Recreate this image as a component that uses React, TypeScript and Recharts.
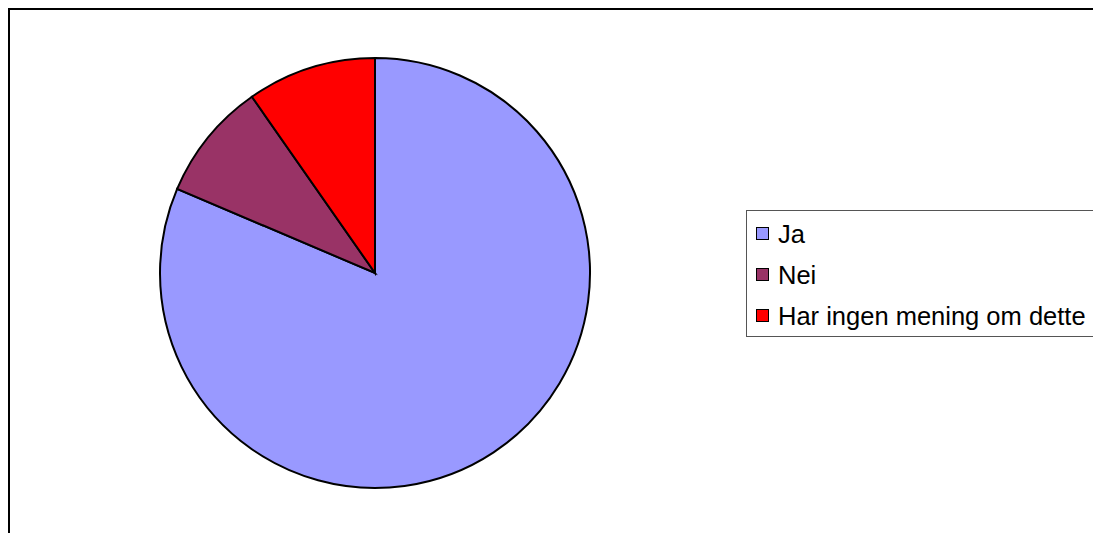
import { PieChart, Pie, Cell, Legend } from 'recharts';

const answers = ['Ja', 'Nei', 'Har ingen mening om dette'];
const shares = [81.4, 8.9, 9.7];
const sliceColors = ['#9999FF', '#993366', '#FF0000'];

const data = answers.map((name, i) => ({ name, value: shares[i] }));

const LegendBox = () => (
  <div
    style={{
      border: '1px solid #555',
      background: '#fff',
      width: 370,
      height: 127,
      boxSizing: 'border-box',
      paddingTop: 2,
      paddingLeft: 9,
      fontFamily: '"Liberation Sans", Arial, sans-serif',
      fontSize: 25.5,
      color: '#000',
    }}
  >
    {answers.map((name, i) => (
      <div key={name} style={{ display: 'flex', alignItems: 'center', height: 41 }}>
        <span
          style={{
            display: 'inline-block',
            width: 11,
            height: 11,
            background: sliceColors[i],
            border: '1.5px solid #000',
            marginRight: 9,
          }}
        />
        <span style={{ whiteSpace: 'nowrap', lineHeight: '26px' }}>{name}</span>
      </div>
    ))}
  </div>
);

const App = () => {
  return (
    <div
      style={{
        position: 'fixed',
        left: 8,
        top: 8,
        width: 1085,
        height: 525,
        borderTop: '2px solid #000',
        borderLeft: '2px solid #000',
        boxSizing: 'border-box',
        background: '#fff',
        overflow: 'hidden',
      }}
    >
      <PieChart width={1083} height={523} margin={{ top: 0, right: 0, bottom: 0, left: 0 }}>
        <Pie
          data={data}
          dataKey="value"
          nameKey="name"
          cx={365}
          cy={263}
          outerRadius={215}
          startAngle={90}
          endAngle={-270}
          stroke="#000"
          strokeWidth={2}
          isAnimationActive={false}
          label={false}
        >
          {data.map((d, i) => (
            <Cell key={d.name} fill={sliceColors[i]} />
          ))}
        </Pie>
        <Legend
          layout="vertical"
          verticalAlign="top"
          align="right"
          wrapperStyle={{ left: 736, top: 200, right: 'auto', width: 370 }}
          content={() => <LegendBox />}
        />
      </PieChart>
    </div>
  );
};

export default App;
